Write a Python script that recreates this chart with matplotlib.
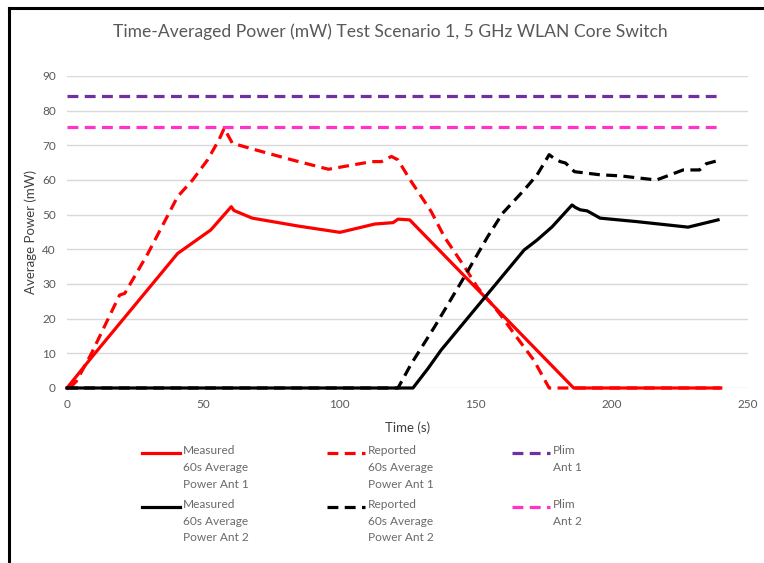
import matplotlib
matplotlib.use("Agg")
import matplotlib.pyplot as plt
from matplotlib.lines import Line2D

plt.rcParams['font.family'] = ['Lato', 'DejaVu Sans']

# ---- data ----
t_meas1 = [0, 9, 40.6, 52.8, 60.3, 61.3, 68.0, 85.0, 100.2, 113.0, 119.7, 121.5, 125.8, 186.0, 240]
v_meas1 = [0, 8.8, 38.8, 45.6, 52.3, 51.2, 49.0, 46.7, 44.9, 47.3, 47.7, 48.7, 48.5, 0, 0]

t_rep1 = [1, 3.5, 9, 19.3, 21.2, 29.7, 40.6, 46.1, 51.6, 55.8, 57.7, 60.7, 69.2, 82.6, 96.0,
          111.8, 115.4, 119.1, 121.5, 126.0, 133.7, 138.6, 145.9, 150.7, 156.8, 159.9,
          164.1, 171.4, 177.0, 240]
v_rep1 = [0, 2.0, 10.0, 26.8, 27.3, 38.8, 55.2, 60.0, 65.8, 71.6, 74.9, 70.6, 68.7, 65.8, 63.1,
          65.3, 65.3, 66.8, 65.8, 60.0, 50.9, 43.5, 35.0, 29.0, 23.4, 20.3,
          15.7, 8.0, 0, 0]

t_meas2 = [0, 127.0, 132.5, 137.3, 167.8, 172.6, 178.1, 185.4, 186.6, 188.4, 190.9, 192.1,
           195.7, 209.1, 228.0, 239.0]
v_meas2 = [0, 0, 5.6, 10.9, 39.8, 42.7, 46.5, 52.8, 52.1, 51.4, 51.1, 50.6,
           49.0, 48.0, 46.4, 48.5]

t_rep2 = [0, 121.5, 126.4, 134.9, 145.9, 154.4, 159.9, 167.8, 172.6, 177.0, 178.7, 181.1, 183.0,
          186.3, 195.7, 203.0, 216.4, 226.2, 232.2, 234.7, 239.0]
v_rep2 = [0, 0, 7.0, 17.6, 32.1, 43.6, 50.4, 57.1, 61.5, 67.3, 66.3, 65.3, 64.9,
          62.4, 61.5, 61.2, 60.0, 62.9, 62.9, 64.7, 65.6]

t_plim = [0, 240]
plim_ant1 = [84.2, 84.2]
plim_ant2 = [75.2, 75.2]

x_ticks = [0, 50, 100, 150, 200, 250]
y_ticks = [0, 10, 20, 30, 40, 50, 60, 70, 80, 90]

labels = ["Measured\n60s Average\nPower Ant 1", "Reported\n60s Average\nPower Ant 1", "Plim\nAnt 1",
          "Measured\n60s Average\nPower Ant 2", "Reported\n60s Average\nPower Ant 2", "Plim\nAnt 2"]

# ---- figure ----
W, H = 764, 563
fig = plt.figure(figsize=(W / 100, H / 100), dpi=100)
x0, x1, y0, y1 = 67, 748, 76, 388
ax = fig.add_axes([x0 / W, 1 - y1 / H, (x1 - x0) / W, (y1 - y0) / H])

gray = '#595959'
lw = 2.3
dash = (3.4, 2.0)

styles = [
    dict(color='#FF0000', ls='-'),
    dict(color='#FF0000', ls=(0, dash)),
    dict(color='#7030A0', ls=(0, dash)),
    dict(color='#000000', ls='-'),
    dict(color='#000000', ls=(0, dash)),
    dict(color='#FF33CC', ls=(0, dash)),
]

ax.plot(t_plim, plim_ant1, lw=lw, **styles[2], zorder=3, clip_on=False)
ax.plot(t_plim, plim_ant2, lw=lw, **styles[5], zorder=3, clip_on=False)
ax.plot(t_rep1, v_rep1, lw=lw, **styles[1], zorder=3, clip_on=False)
ax.plot(t_meas1, v_meas1, lw=lw, **styles[0], zorder=3, clip_on=False)
ax.plot(t_rep2, v_rep2, lw=lw, **styles[4], zorder=4, clip_on=False)
ax.plot(t_meas2, v_meas2, lw=lw, **styles[3], zorder=4, clip_on=False)

ax.set_xlim(0, 250)
ax.set_ylim(0, 90)
ax.set_xticks(x_ticks)
ax.set_yticks(y_ticks)
ax.grid(axis='y', color='#D9D9D9', lw=1)
ax.set_axisbelow(True)
for s in ax.spines.values():
    s.set_visible(False)
ax.tick_params(length=0, labelsize=8.5, labelcolor=gray, pad=8)
ax.set_xlabel('Time (s)', fontsize=9.5, color='#404040', labelpad=8)
ax.set_ylabel('Average Power (mW)', fontsize=9.5, color='#404040', labelpad=4)

fig.text(390 / W, 1 - 32 / H, 'Time-Averaged Power (mW) Test Scenario 1, 5 GHz WLAN Core Switch',
         ha='center', va='center', fontsize=12.6, color=gray)

# ---- legend (manual, Excel style) ----
col_x = [142, 327, 512]
row_y = [453, 506.5]
for i, lab in enumerate(labels):
    r, c = divmod(i, 3)
    hx, hy = col_x[c], row_y[r]
    st = styles[i]
    fig.add_artist(Line2D([hx / W, (hx + 38) / W], [1 - hy / H, 1 - hy / H],
                          transform=fig.transFigure, color=st['color'], ls=st['ls'], lw=lw))
    fig.text((hx + 41) / W, 1 - (hy - 7.5) / H, lab, ha='left', va='top', fontsize=8.6,
             color='#6a6a6a', linespacing=1.62)

# ---- image border ----
fig.add_artist(Line2D([8.5 / W, 1], [1 - 8 / H, 1 - 8 / H], transform=fig.transFigure,
                      color='black', lw=2.2))
fig.add_artist(Line2D([9 / W, 9 / W], [0, 1 - 8 / H], transform=fig.transFigure,
                      color='black', lw=2.2))

fig.savefig('out.png', dpi=100)
